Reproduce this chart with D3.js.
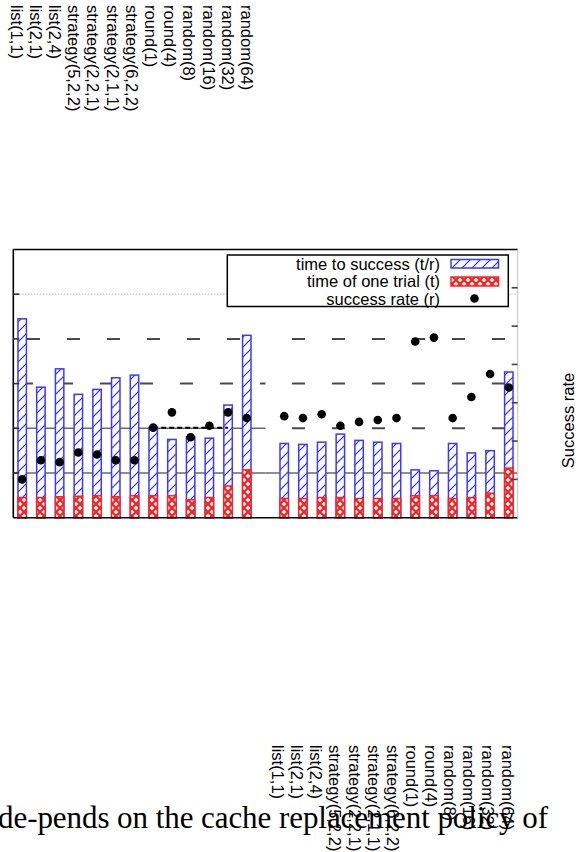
<!DOCTYPE html>
<html>
<head>
<meta charset="utf-8">
<script src="https://cdn.jsdelivr.net/npm/d3@7"></script>
<style>
    body { margin: 0; background: #fff; }
    svg { display: block; }
    text { font-family: "Liberation Sans", Arial, sans-serif; }
</style>
</head>
<body>
<script>
// policies, same order in both groups
const policies = ['list(1,1)', 'list(2,1)', 'list(2,4)', 'strategy(5,2,2)', 'strategy(2,2,1)',
    'strategy(2,1,1)', 'strategy(6,2,2)', 'round(1)', 'round(4)', 'random(8)', 'random(16)',
    'random(32)', 'random(64)'];

// left group
const leftTimeToSuccess = [4.45, 2.92, 3.33, 2.76, 2.87, 3.13, 3.19, 2.02, 1.75, 1.81, 1.78, 2.52, 4.08];
const leftTrialTime = [0.45, 0.45, 0.47, 0.48, 0.49, 0.47, 0.49, 0.49, 0.49, 0.40, 0.45, 0.71, 1.07];
const leftSuccessRate = [0.20, 0.30, 0.29, 0.34, 0.33, 0.30, 0.30, 0.47, 0.55, 0.42, 0.48, 0.55, 0.52];

// right group
const rightTimeToSuccess = [1.66, 1.64, 1.69, 1.87, 1.73, 1.69, 1.66, 1.07, 1.05, 1.66, 1.45, 1.50, 3.26];
const rightTrialTime = [0.43, 0.43, 0.45, 0.45, 0.43, 0.43, 0.43, 0.49, 0.49, 0.43, 0.45, 0.55, 1.11];
const rightSuccessRate = [0.53, 0.52, 0.54, 0.48, 0.50, 0.51, 0.52, 0.92, 0.94, 0.52, 0.63, 0.75, 0.68];

const legendLabels = ['time to success (t/r)', 'time of one trial (t)', 'success rate (r)'];
const gridLevels = [1, 2, 3, 4, 5];
const rateTicks = [0.2, 0.4, 0.6, 0.8, 1.0, 1.2];

const width = 585;
const height = 852;
const plotLeft = 13.3;
const plotRight = 517.7;
const plotTop = 249.5;
const plotBottom = 517.7;

const svg = d3.select('body').append('svg')
    .attr('width', width)
    .attr('height', height);

const defs = svg.append('defs');
const hatch = defs.append('pattern')
    .attr('id', 'hatch')
    .attr('patternUnits', 'userSpaceOnUse')
    .attr('width', 10)
    .attr('height', 10);
hatch.append('rect').attr('width', 10).attr('height', 10).attr('fill', '#fff');
hatch.append('path')
    .attr('d', 'M0,10 L10,0 M-2,2 L2,-2 M8,12 L12,8')
    .attr('stroke', '#2a2aff')
    .attr('stroke-width', 1.2);

const cross = defs.append('pattern')
    .attr('id', 'cross')
    .attr('patternUnits', 'userSpaceOnUse')
    .attr('width', 8)
    .attr('height', 8);
cross.append('rect').attr('width', 8).attr('height', 8).attr('fill', '#fff');
cross.append('path')
    .attr('d', 'M0,0 L8,8 M0,8 L8,0')
    .attr('stroke', '#ff1a1a')
    .attr('stroke-width', 2.2);

// rows of bars: left group, an empty slot, right group
const rows = policies.map((name, i) => ({
    key: 'L:' + name, total: leftTimeToSuccess[i], trial: leftTrialTime[i], rate: leftSuccessRate[i]
})).concat(policies.map((name, i) => ({
    key: 'R:' + name, total: rightTimeToSuccess[i], trial: rightTrialTime[i], rate: rightSuccessRate[i]
})));
const slots = rows.slice(0, 13).map(d => d.key).concat(['gap'], rows.slice(13).map(d => d.key));

const x = d3.scaleBand()
    .domain(slots)
    .range([plotLeft, plotRight])
    .paddingInner(0.55)
    .paddingOuter(0.25);

const y = d3.scaleLinear().domain([0, 6]).range([plotBottom, plotTop]);
const yRate = d3.scaleLinear().domain([0, 1.4]).range([plotBottom, plotTop]);

// gridlines, drawn per panel
const split = x('gap') + x.bandwidth() / 2;
const panels = [
    {x0: plotLeft, x1: split, styles: ['solid', 'solid', 'dash', 'dash', 'dot'], phases: [0, 0, 20, 27, 0]},
    {x0: split, x1: plotRight, styles: ['solid', 'dash', 'dash', 'dash', 'dot'], phases: [0, 12, 12, 12, 0]}
];
const grid = svg.append('g');
panels.forEach(p => {
    grid.selectAll(null)
        .data(gridLevels)
        .enter()
        .append('line')
        .attr('x1', p.x0)
        .attr('x2', p.x1)
        .attr('y1', d => y(d))
        .attr('y2', d => y(d))
        .attr('stroke', (d, i) => p.styles[i] === 'dot' ? '#999' : p.styles[i] === 'dash' ? '#4a4a4a' : '#6a6a6a')
        .attr('stroke-width', (d, i) => p.styles[i] === 'dot' ? 1 : p.styles[i] === 'dash' ? 2 : 1.6)
        .attr('stroke-dasharray', (d, i) => p.styles[i] === 'dot' ? '1,2' : p.styles[i] === 'dash' ? '13,27' : null)
        .attr('stroke-dashoffset', (d, i) => p.styles[i] === 'dash' ? ((p.x0 - p.phases[i]) % 40 + 40) % 40 : 0);
});

// bars
const bars = svg.append('g');
bars.selectAll('.total')
    .data(rows)
    .enter()
    .append('rect')
    .attr('class', 'total')
    .attr('x', d => x(d.key))
    .attr('y', d => y(d.total))
    .attr('width', x.bandwidth())
    .attr('height', d => y(0) - y(d.total))
    .attr('fill', 'url(#hatch)')
    .attr('stroke', '#3a3aff')
    .attr('stroke-width', 1.5);

bars.selectAll('.trial')
    .data(rows)
    .enter()
    .append('rect')
    .attr('class', 'trial')
    .attr('x', d => x(d.key))
    .attr('y', d => y(d.trial))
    .attr('width', x.bandwidth())
    .attr('height', d => y(0) - y(d.trial))
    .attr('fill', 'url(#cross)')
    .attr('stroke', '#ff2020')
    .attr('stroke-width', 1.5);

// dashed reference at round(1) rate, left group
const refFrom = 'L:round(1)';
const refTo = 'L:random(32)';
const refRate = leftSuccessRate[policies.indexOf('round(1)')];
svg.append('line')
    .attr('x1', x(refFrom) + x.bandwidth() / 2)
    .attr('x2', x(refTo) + x.bandwidth() / 2)
    .attr('y1', yRate(refRate))
    .attr('y2', yRate(refRate))
    .attr('stroke', '#000')
    .attr('stroke-width', 2)
    .attr('stroke-dasharray', '5,3');

// success rate dots
svg.append('g')
    .selectAll('circle')
    .data(rows)
    .enter()
    .append('circle')
    .attr('cx', d => x(d.key) + x.bandwidth() / 2)
    .attr('cy', d => yRate(d.rate))
    .attr('r', 4.3)
    .attr('fill', '#000');

// frame
const frame = svg.append('g');
frame.append('line').attr('x1', plotLeft).attr('x2', plotRight).attr('y1', plotTop).attr('y2', plotTop)
    .attr('stroke', '#000').attr('stroke-width', 1.3);
frame.append('line').attr('x1', plotLeft).attr('x2', plotRight).attr('y1', plotBottom).attr('y2', plotBottom)
    .attr('stroke', '#000').attr('stroke-width', 1.6);
frame.append('line').attr('x1', plotLeft).attr('x2', plotLeft).attr('y1', plotTop).attr('y2', plotBottom)
    .attr('stroke', '#000').attr('stroke-width', 1.6);
frame.append('line').attr('x1', plotRight).attr('x2', plotRight).attr('y1', plotTop).attr('y2', plotBottom)
    .attr('stroke', '#c4c4c4').attr('stroke-width', 1);

frame.selectAll('.ltick')
    .data(gridLevels)
    .enter()
    .append('line')
    .attr('class', 'ltick')
    .attr('x1', plotLeft)
    .attr('x2', plotLeft + 6)
    .attr('y1', d => y(d))
    .attr('y2', d => y(d))
    .attr('stroke', '#333')
    .attr('stroke-width', 1.6);

frame.selectAll('.rtick')
    .data(rateTicks)
    .enter()
    .append('line')
    .attr('class', 'rtick')
    .attr('x1', plotRight - 6)
    .attr('x2', plotRight)
    .attr('y1', d => yRate(d))
    .attr('y2', d => yRate(d))
    .attr('stroke', '#444')
    .attr('stroke-width', 1.6);

// legend
const legend = svg.append('g');
legend.append('rect')
    .attr('x', 227.3).attr('y', 255)
    .attr('width', 281).attr('height', 51.5)
    .attr('fill', '#fff')
    .attr('stroke', '#000')
    .attr('stroke-width', 1.5);
const legendY = d3.scalePoint().domain(legendLabels).range([264, 299]);
legend.selectAll('text')
    .data(legendLabels)
    .enter()
    .append('text')
    .attr('x', 440)
    .attr('y', d => legendY(d) + 5.5)
    .attr('text-anchor', 'end')
    .attr('font-size', 16.5)
    .text(d => d);
legend.append('rect')
    .attr('x', 451).attr('y', legendY(legendLabels[0]) - 4.5)
    .attr('width', 47.5).attr('height', 8.5)
    .attr('fill', 'url(#hatch)').attr('stroke', '#3a3aff').attr('stroke-width', 1.5);
legend.append('rect')
    .attr('x', 451).attr('y', legendY(legendLabels[1]) - 4.5)
    .attr('width', 47.5).attr('height', 9)
    .attr('fill', 'url(#cross)').attr('stroke', '#ff2020').attr('stroke-width', 1.5);
legend.append('circle')
    .attr('cx', 474.5).attr('cy', legendY(legendLabels[2]) - 0.5)
    .attr('r', 4.3)
    .attr('fill', '#000');

// axis title on the right
svg.append('text')
    .attr('transform', 'translate(567.5,420.5) rotate(-90)')
    .attr('text-anchor', 'middle')
    .attr('dominant-baseline', 'central')
    .attr('font-size', 16.5)
    .text('Success rate');

// rotated policy labels above and below
const topX = d3.scalePoint().domain(policies).range([16.7, 247]);
const bottomX = d3.scalePoint().domain(policies).range([278, 507.5]);

svg.append('g')
    .selectAll('text')
    .data(policies)
    .enter()
    .append('text')
    .attr('transform', d => 'translate(' + topX(d) + ',5) rotate(90)')
    .attr('dominant-baseline', 'central')
    .attr('font-size', 16.5)
    .text(d => d);

// caption line of the page
svg.append('text')
    .attr('x', -2)
    .attr('y', 828)
    .attr('font-family', '"Liberation Serif", "Times New Roman", serif')
    .attr('font-size', 31)
    .attr('textLength', 550)
    .attr('lengthAdjust', 'spacing')
    .style('font-family', '"Liberation Serif", "Times New Roman", serif')
    .text('de-pends on the cache replacement policy of');

svg.append('g')
    .selectAll('text')
    .data(policies)
    .enter()
    .append('text')
    .attr('transform', d => 'translate(' + bottomX(d) + ',745) rotate(90)')
    .attr('dominant-baseline', 'central')
    .attr('font-size', 16.5)
    .text(d => d);
</script>
</body>
</html>
